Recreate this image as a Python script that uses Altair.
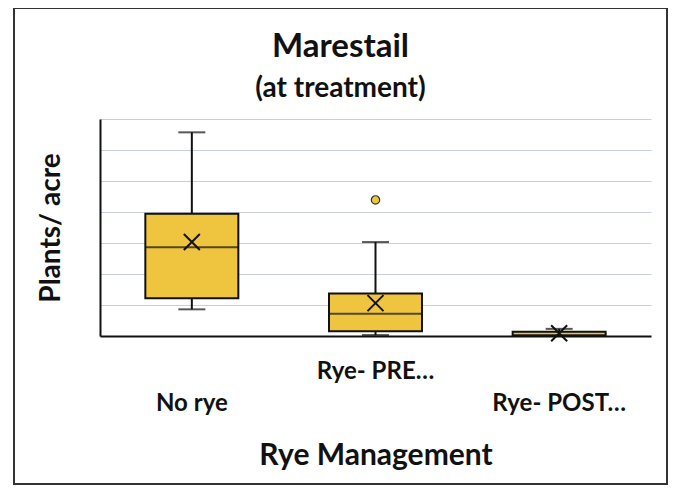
import altair as alt
import pandas as pd

# ---- data (units = gridline steps; axis has no tick labels) ----
categories = ["No rye", "Rye- PRE…", "Rye- POST…"]
whisker_low = [0.86, 0.03, 0.0]
q1 = [1.22, 0.15, 0.0]
median = [2.86, 0.72, 0.03]
q3 = [3.94, 1.37, 0.14]
whisker_high = [6.57, 3.03, 0.23]
mean = [3.03, 1.06, 0.09]
grid_values = [0, 1, 2, 3, 4, 5, 6, 7]

outlier_cat = ["Rye- PRE…"]
outlier_val = [4.39]

df = pd.DataFrame({
    "cat": categories, "lo": whisker_low, "q1": q1, "med": median,
    "q3": q3, "hi": whisker_high, "mean": mean,
})
out_df = pd.DataFrame({"cat": outlier_cat, "val": outlier_val})

FONT = "Lato"
BOX_FILL = "#efc53f"
INK = "#111111"

x_axis = alt.Axis(
    ticks=False, domain=True, domainColor=INK, domainWidth=2,
    labelAngle=0, labelFont=FONT, labelFontSize=24, labelFontWeight="bold",
    labelColor=INK, labelBaseline="top",
    labelPadding={"condition": {"test": "datum.value == 'Rye- PRE…'", "value": 23}, "value": 55},
    titleFont=FONT, titleFontSize=30, titleFontWeight="bold", titleColor=INK,
    titlePadding=25,
)
x_scale = alt.Scale(paddingInner=0, paddingOuter=0)
y_scale = alt.Scale(domain=[0, 7], nice=False, zero=True)
y_axis = alt.Axis(
    labels=False, ticks=False, values=grid_values,
    domain=True, domainColor=INK, domainWidth=2,
    grid=True, gridColor="#c9cfdd", gridWidth=1,
    titleFont=FONT, titleFontSize=28, titleFontWeight="bold", titleColor=INK,
    titlePadding=35,
)


def X():
    return alt.X("cat:N", sort=categories, title="Rye Management", scale=x_scale, axis=x_axis)


def Y(field):
    return alt.Y(field, scale=y_scale, axis=y_axis, title="Plants/ acre")


base = alt.Chart(df)

whisk = base.mark_rule(color=INK, strokeWidth=2).encode(x=X(), y=Y("lo:Q"), y2="hi:Q")
caps_hi = base.mark_tick(color=INK, size=27, thickness=2).encode(x=X(), y=Y("hi:Q"))
caps_lo = base.mark_tick(color=INK, size=27, thickness=2).encode(x=X(), y=Y("lo:Q"))
box = base.mark_bar(size=93, fill=BOX_FILL, stroke=INK, strokeWidth=2).encode(
    x=X(), y=Y("q1:Q"), y2="q3:Q"
)
med = base.mark_tick(color=INK, size=93, thickness=2).encode(x=X(), y=Y("med:Q"))
mean_pt = base.mark_point(
    shape="M-1,-1L1,1M-1,1L1,-1", size=256, stroke=INK, strokeWidth=2,
    filled=False, opacity=1,
).encode(x=X(), y=Y("mean:Q"))

outl = alt.Chart(out_df).mark_point(
    shape="circle", size=70, filled=True, fill=BOX_FILL, stroke="#333333",
    strokeWidth=1.2, opacity=1,
).encode(x=X(), y=Y("val:Q"))

frame = alt.Chart(alt.Data(values=[{}])).mark_rect(
    fill="transparent", stroke="#333333", strokeWidth=2
).encode(
    x=alt.value(-86), x2=alt.value(567), y=alt.value(-111), y2=alt.value(365)
)

chart = alt.layer(whisk, caps_hi, caps_lo, box, med, mean_pt, outl, frame).properties(
    width=551, height=217,
    padding={"left": 92, "top": 111, "right": 22, "bottom": 155},
    autosize=alt.AutoSizeParams(type="none"),
    title=alt.TitleParams(
        text="Marestail", subtitle="(at treatment)",
        font=FONT, fontSize=33, fontWeight="bold", color=INK,
        subtitleFont=FONT, subtitleFontSize=28, subtitleFontWeight="bold",
        subtitleColor=INK, subtitlePadding=11,
        anchor="middle", frame="bounds", offset=-96,
    ),
    background="white",
).configure_view(stroke=None)

chart.save("out.html", embed_options={"renderer": "svg", "actions": False})
